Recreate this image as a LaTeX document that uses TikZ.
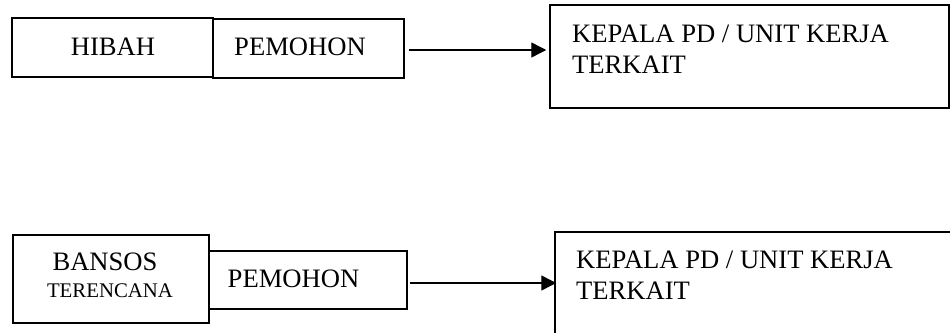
\documentclass[tikz,border=0pt]{standalone}
\usepackage{fontspec}
\setmainfont{Liberation Serif}
\usetikzlibrary{arrows.meta}
\begin{document}
\begin{tikzpicture}[x=1pt,y=-1pt,
  boxnode/.style={draw=black, line width=1.5pt, rectangle, inner sep=0pt},
  bigtxt/.style={inner sep=0pt, font=\fontsize{26.6pt}{31pt}\selectfont},
  smalltxt/.style={inner sep=0pt, font=\fontsize{20.8pt}{24pt}\selectfont},
  arr/.style={line width=1.4pt, -{Triangle[length=15pt,width=15pt]}}]
\useasboundingbox (0,0) rectangle (950,332);
% top row
\node[boxnode, minimum width=201pt, minimum height=59pt] (h) at (112.5,47.5) {};
\node[bigtxt, anchor=base] (ht) at (113,55) {HIBAH};
\node[boxnode, minimum width=191pt, minimum height=59pt] (p1) at (308.5,48.5) {};
\node[bigtxt, anchor=base] (p1t) at (300,55) {PEMOHON};
\node[boxnode, minimum width=399pt, minimum height=103pt] (k1) at (749.5,56.5) {};
\node[bigtxt, anchor=base west] (k1a) at (572,42) {KEPALA PD / UNIT KERJA};
\node[bigtxt, anchor=base west] (k1b) at (572,73) {TERKAIT};
\draw[arr, shorten <=4pt, shorten >=3pt] ([yshift=-1.5pt]p1.east) -- ([yshift=-1.5pt]p1.east -| k1.west);
% bottom row
\node[boxnode, minimum width=196pt, minimum height=88pt] (b) at (111,279) {};
\node[bigtxt, anchor=base] (bt1) at (105,270) {BANSOS};
\node[smalltxt, anchor=base] (bt2) at (110,297) {TERENCANA};
\node[boxnode, minimum width=198pt, minimum height=58pt] (p2) at (308,280) {};
\node[bigtxt, anchor=base] (p2t) at (293.5,287) {PEMOHON};
\node[boxnode, minimum width=398pt, minimum height=104pt] (k2) at (754,284) {};
\node[bigtxt, anchor=base west] (k2a) at (576,268) {KEPALA PD / UNIT KERJA};
\node[bigtxt, anchor=base west] (k2b) at (576,299) {TERKAIT};
\draw[arr, shorten <=2pt, shorten >=-2pt] ([yshift=-3pt]p2.east) -- ([yshift=-3pt]p2.east -| k2.west);
\end{tikzpicture}
\end{document}
